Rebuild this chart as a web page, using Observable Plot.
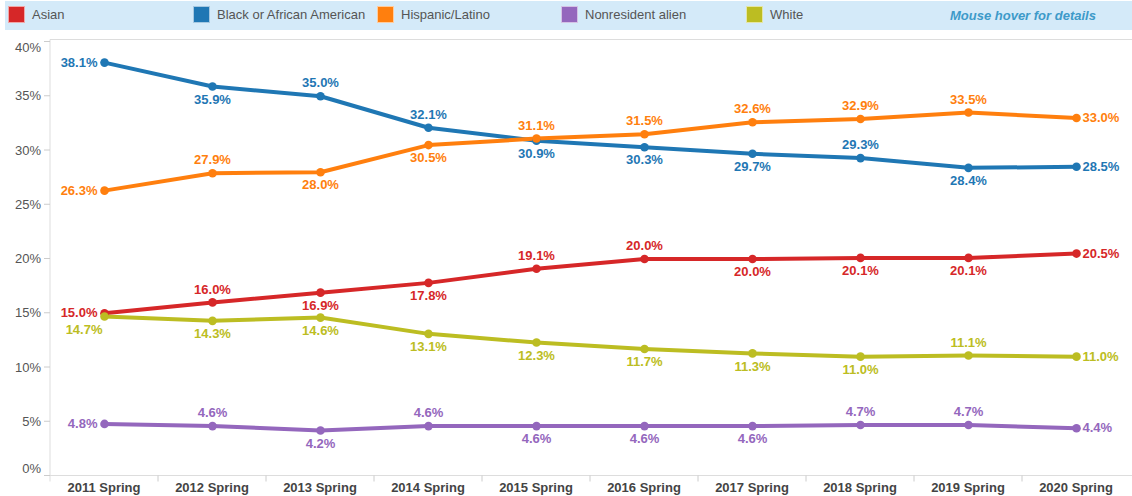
<!DOCTYPE html>
<html><head><meta charset="utf-8">
<script src="https://cdn.jsdelivr.net/npm/d3@7"></script>
<script src="https://cdn.jsdelivr.net/npm/@observablehq/plot@0.6"></script>
<style>
body{margin:0;background:#fff;font-family:"Liberation Sans",Arial,sans-serif;}
#legend{position:relative;height:30px;width:1132px;}
#legend .bar{position:absolute;left:5px;top:1px;right:0;height:29px;background:#d4eaf9;}
.item{position:absolute;top:6px;height:16px;display:flex;align-items:center;font-size:13px;color:#555;}
.sw{width:15px;height:15px;margin-right:7px;border:1px solid rgba(255,255,255,.6);}
.hover{position:absolute;left:950px;top:8px;font-size:13px;font-weight:bold;font-style:italic;color:#3d9ac9;}
</style></head>
<body>
<div id="legend"><div class="bar"></div></div>
<div id="chart"></div>
<script>
const years = ["2011 Spring","2012 Spring","2013 Spring","2014 Spring","2015 Spring","2016 Spring","2017 Spring","2018 Spring","2019 Spring","2020 Spring"];
const seriesNames = ["Asian","Black or African American","Hispanic/Latino","Nonresident alien","White"];
const colors = ["#d62728","#1f77b4","#ff7f0e","#9467bd","#bcbd22"];
const asian = [15.0,16.0,16.9,17.8,19.1,20.0,20.0,20.1,20.1,20.5];
const black = [38.1,35.9,35.0,32.1,30.9,30.3,29.7,29.3,28.4,28.5];
const hispanic = [26.3,27.9,28.0,30.5,31.1,31.5,32.6,32.9,33.5,33.0];
const nonresident = [4.8,4.6,4.2,4.6,4.6,4.6,4.6,4.7,4.7,4.4];
const white = [14.7,14.3,14.6,13.1,12.3,11.7,11.3,11.0,11.1,11.0];
// label placement: l=left, r=right, a=above, b=below, bl=below-left
const asianPos = ["l","a","b","b","a","a","b","b","b","r"];
const blackPos = ["l","b","a","a","b","b","b","a","b","r"];
const hispanicPos = ["l","a","b","b","a","a","a","a","a","r"];
const nonresidentPos = ["l","a","b","a","b","b","b","a","a","r"];
const whitePos = ["bl","b","b","b","b","b","b","b","a","r"];
const yTicks = [0,5,10,15,20,25,30,35,40];

const allVals = [asian,black,hispanic,nonresident,white];
const allPos = [asianPos,blackPos,hispanicPos,nonresidentPos,whitePos];
const data = [];
seriesNames.forEach((s,i)=>years.forEach((y,j)=>data.push({series:s,year:y,value:allVals[i][j],pos:allPos[i][j]})));

// legend
const legend = document.getElementById("legend");
const legendX = [8,193,377,561,746];
seriesNames.forEach((s,i)=>{
  const d = document.createElement("div");
  d.className="item"; d.style.left=legendX[i]+"px";
  d.innerHTML=`<div class="sw" style="background:${colors[i]}"></div><span>${s}</span>`;
  legend.appendChild(d);
});
const h = document.createElement("div"); h.className="hover"; h.textContent="Mouse hover for details"; legend.appendChild(h);

const color = {domain:seriesNames, range:colors};
const fmt = d=>d.value.toFixed(1)+"%";
const lab = (pos, opts) => Plot.text(data, {filter:d=>d.pos===pos, x:"year", y:"value", text:fmt, fill:"series", fontWeight:"bold", fontSize:13, ...opts});

const plot = Plot.plot({
  width:1132, height:466,
  marginTop:11.5, marginBottom:20.5, marginLeft:47, marginRight:0,
  style:{fontFamily:"Liberation Sans, Arial, sans-serif", overflow:"visible"},
  x:{type:"point", domain:years, padding:0.5, axis:null},
  y:{domain:[0,40], axis:null},
  color,
  marks:[
    Plot.line(data,{x:"year", y:"value", stroke:"series", strokeWidth:4, z:"series"}),
    Plot.dot(data,{x:"year", y:"value", fill:"series", r:4.3}),
    lab("a",{dy:-13}),
    lab("b",{dy:13}),
    lab("l",{dx:-7, textAnchor:"end"}),
    lab("r",{dx:6, textAnchor:"start"}),
    lab("bl",{dx:-2, dy:13, textAnchor:"end"})
  ]
});
document.getElementById("chart").appendChild(plot);

// axes drawn with the plot's own scales
const sx = plot.scale("x"), sy = plot.scale("y");
const svg = d3.select(plot);
const g = svg.insert("g", ":first-child");
const y0 = sy.apply(0), y40 = sy.apply(40);
const bw = sx.apply(years[1]) - sx.apply(years[0]);
const left = sx.apply(years[0]) - bw/2;
g.append("line").attr("x1",left).attr("x2",left).attr("y1",y40-2).attr("y2",y0+6).attr("stroke","#ddd");
g.append("line").attr("x1",left).attr("x2",1132).attr("y1",y0).attr("y2",y0).attr("stroke","#ddd");
g.append("line").attr("x1",left).attr("x2",1132).attr("y1",y40-2).attr("y2",y40-2).attr("stroke","#ddd");
yTicks.forEach(t=>{
  const yy = sy.apply(t);
  g.append("line").attr("x1",left-6).attr("x2",left).attr("y1",yy).attr("y2",yy).attr("stroke","#ccc");
  const off = t===40 ? 6 : t===0 ? -7 : 0;
  g.append("text").attr("x",left-9).attr("y",yy+off).attr("dy","0.35em").attr("text-anchor","end")
    .attr("font-size",13).attr("fill","#555").text(t+"%");
});
years.forEach((y,i)=>{
  const cx = sx.apply(y);
  if(i>0) g.append("line").attr("x1",cx-bw/2).attr("x2",cx-bw/2).attr("y1",y0).attr("y2",y0+6).attr("stroke","#ccc");
  g.append("text").attr("x",cx).attr("y",y0+16).attr("text-anchor","middle").attr("font-size",13).attr("font-weight","bold").attr("fill","#444").text(y);
});
</script>
</body></html>
